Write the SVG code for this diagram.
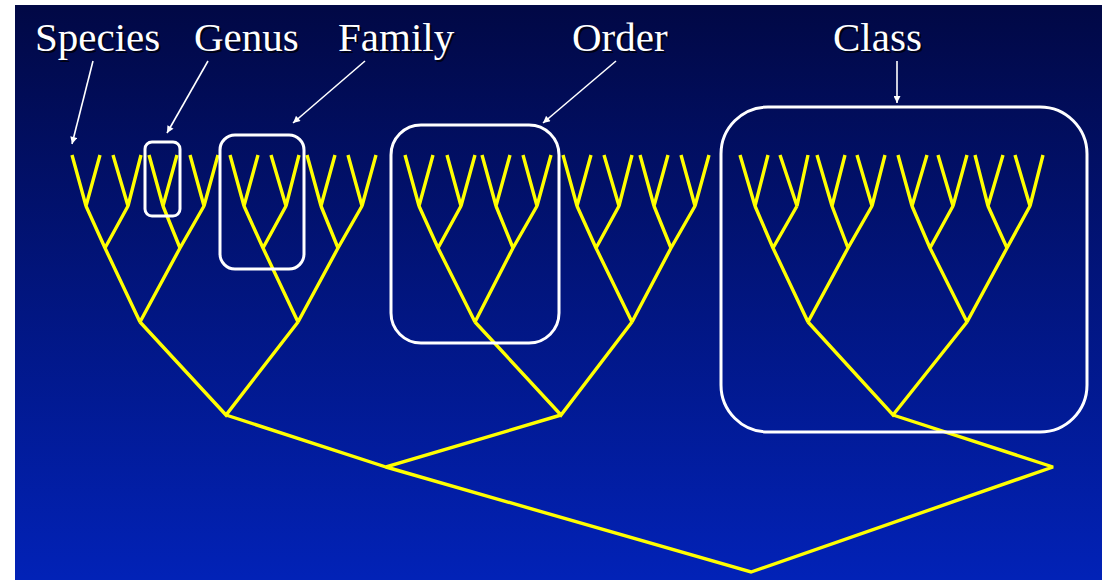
<svg xmlns="http://www.w3.org/2000/svg" width="1102" height="580" viewBox="0 0 1102 580">
  <style>
    .branch { fill: none; stroke: #FFFF00; stroke-width: 3.4; stroke-linejoin: miter; stroke-miterlimit: 2; stroke-linecap: butt; }
    .box { fill: none; stroke: #FFFFFF; stroke-width: 3; }
    .label { fill: #FFFFFF; }
    .shadow { fill: #000000; fill-opacity: 0.75; }
    .pointer { stroke: #FFFFFF; stroke-width: 1.6; fill: none; }
  </style>
  <defs>
    <linearGradient id="bg" x1="0" y1="0" x2="0" y2="1">
      <stop offset="0" stop-color="#010845"/>
      <stop offset="1" stop-color="#0222B7"/>
    </linearGradient>
    <marker id="tip" viewBox="0 0 10 10" refX="10" refY="5" markerUnits="userSpaceOnUse" markerWidth="8" markerHeight="7" orient="auto">
      <path d="M0,0 L10,5 L0,10 z" fill="#FFFFFF"/>
    </marker>
  </defs>

  <!-- page and slide background -->
  <rect x="0" y="0" width="1102" height="580" fill="#FFFFFF"/>
  <rect x="15" y="5" width="1087" height="575" fill="url(#bg)"/>

  <!-- clusters of eight species each -->
  <g id="cluster-1" class="branch">
    <path d="M72,155 L86,206 L100,155 M113,155 L128,206 L141,155 M149,155 L163,206 L177,155 M190,155 L204,206 L218,155 M86,206 L105,248 L128,206 M163,206 L180,248 L204,206 M105,248 L140,322 L180,248"/>
  </g>
  <g id="cluster-2" class="branch">
    <path d="M230,155 L244,206 L258,155 M271,155 L286,206 L299,155 M307,155 L321,206 L335,155 M348,155 L362,206 L376,155 M244,206 L263,248 L286,206 M321,206 L338,248 L362,206 M263,248 L298,322 L338,248"/>
  </g>
  <g id="cluster-3" class="branch">
    <path d="M405,155 L419,206 L433,155 M447,155 L461,206 L475,155 M482,155 L496,206 L510,155 M523,155 L537,206 L551,155 M419,206 L438,248 L461,206 M496,206 L513,248 L537,206 M438,248 L475,322 L513,248"/>
  </g>
  <g id="cluster-4" class="branch">
    <path d="M563,155 L577,206 L591,155 M604,155 L619,206 L632,155 M640,155 L654,206 L668,155 M681,155 L695,206 L709,155 M577,206 L596,248 L619,206 M654,206 L671,248 L695,206 M596,248 L632,322 L671,248"/>
  </g>
  <g id="cluster-5" class="branch">
    <path d="M740,155 L755,206 L768,155 M780,155 L797,206 L808,155 M817,155 L832,206 L845,155 M857,155 L872,206 L885,155 M755,206 L773,248 L797,206 M832,206 L848,248 L872,206 M773,248 L808,322 L848,248"/>
  </g>
  <g id="cluster-6" class="branch">
    <path d="M898,155 L912,206 L927,155 M938,155 L953,206 L967,155 M975,155 L988,206 L1003,155 M1015,155 L1030,206 L1043,155 M912,206 L930,248 L953,206 M988,206 L1007,248 L1030,206 M930,248 L967,322 L1007,248"/>
  </g>

  <!-- higher-level branches joining the clusters -->
  <g id="connectors" class="branch">
    <path d="M140,322 L226,415 L298,322"/>
    <path d="M475,322 L561,415 L632,322"/>
    <path d="M808,322 L893,415 L967,322"/>
    <path d="M226,415 L386,467 L561,415"/>
    <path d="M893,415 L1053,467 L751,572 L386,467"/>
  </g>

  <!-- rank boxes -->
  <g id="box-genus"><rect class="box" x="145" y="142" width="35" height="74" rx="7"/></g>
  <g id="box-family"><rect class="box" x="220" y="135" width="84" height="134" rx="15"/></g>
  <g id="box-order"><rect class="box" x="391" y="125" width="168" height="218" rx="30"/></g>
  <g id="box-class"><rect class="box" x="721" y="107" width="366" height="325" rx="47"/></g>

  <!-- rank labels with pointers -->
  <g font-family="'Liberation Serif', 'Times New Roman', 'DejaVu Serif', serif" font-size="41">
    <g id="label-species">
      <text class="shadow" x="37" y="53">Species</text>
      <text class="label" x="35" y="51">Species</text>
      <line class="pointer" x1="93" y1="61" x2="72" y2="144" marker-end="url(#tip)"/>
    </g>
    <g id="label-genus">
      <text class="shadow" x="196" y="53">Genus</text>
      <text class="label" x="194" y="51">Genus</text>
      <line class="pointer" x1="208" y1="61" x2="167" y2="133" marker-end="url(#tip)"/>
    </g>
    <g id="label-family">
      <text class="shadow" x="340" y="53">Family</text>
      <text class="label" x="338" y="51">Family</text>
      <line class="pointer" x1="365" y1="61" x2="293" y2="123" marker-end="url(#tip)"/>
    </g>
    <g id="label-order">
      <text class="shadow" x="574" y="53">Order</text>
      <text class="label" x="572" y="51">Order</text>
      <line class="pointer" x1="616" y1="61" x2="543" y2="123" marker-end="url(#tip)"/>
    </g>
    <g id="label-class">
      <text class="shadow" x="835" y="53">Class</text>
      <text class="label" x="833" y="51">Class</text>
      <line class="pointer" x1="897" y1="61" x2="897" y2="103" marker-end="url(#tip)"/>
    </g>
  </g>
</svg>
